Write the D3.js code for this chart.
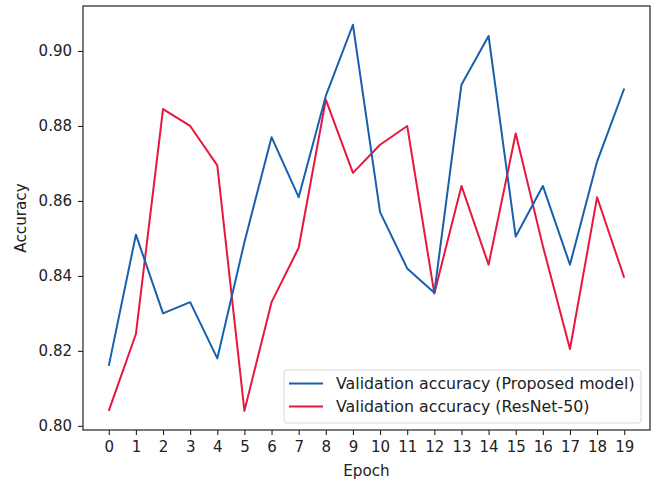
<!DOCTYPE html>
<html>
<head>
<meta charset="utf-8">
<script src="https://cdn.jsdelivr.net/npm/d3@7"></script>
<style>
  body { margin: 0; background: #fff; }
  svg { font-family: 'DejaVu Sans', sans-serif; }
</style>
</head>
<body>
<div id="chart"></div>
<script>
// epochs 0..19
const epochs = [0, 1, 2, 3, 4, 5, 6, 7, 8, 9, 10, 11, 12, 13, 14, 15, 16, 17, 18, 19];
const proposedAcc = [0.816, 0.851, 0.830, 0.833, 0.818, 0.849, 0.877, 0.861, 0.888, 0.907,
                     0.857, 0.842, 0.8355, 0.891, 0.904, 0.8505, 0.864, 0.843, 0.8705, 0.890];
const resnetAcc = [0.804, 0.8245, 0.8845, 0.880, 0.8695, 0.804, 0.833, 0.8475, 0.887, 0.8675,
                   0.875, 0.880, 0.8353, 0.864, 0.843, 0.878, 0.848, 0.8205, 0.861, 0.8395];
const yTicks = [0.80, 0.82, 0.84, 0.86, 0.88, 0.90];
const seriesNames = ['Validation accuracy (Proposed model)', 'Validation accuracy (ResNet-50)'];

const width = 656, height = 484;
const margin = {top: 6, right: 6, bottom: 54, left: 83};
const tickFont = 15, labelFont = 15.2, legendFont = 15.8;

function drawChart() {
    const svg = d3.select('#chart')
        .append('svg')
        .attr('width', width)
        .attr('height', height);

    // matplotlib style 5% padding
    const x = d3.scaleLinear()
        .domain([-0.95, 19.95])
        .range([margin.left, width - margin.right]);

    const y = d3.scaleLinear()
        .domain([0.7989, 0.912])
        .range([height - margin.bottom, margin.top]);

    const xAxis = svg.append('g')
        .attr('transform', `translate(0, ${height - margin.bottom})`)
        .call(d3.axisBottom(x).tickValues(epochs).tickFormat(d3.format('d')).tickSize(5).tickPadding(6));

    const yAxis = svg.append('g')
        .attr('transform', `translate(${margin.left}, 0)`)
        .call(d3.axisLeft(y).tickValues(yTicks).tickFormat(d3.format('.2f')).tickSize(5).tickPadding(6));

    [xAxis, yAxis].forEach(ax => {
        ax.select('.domain').remove();
        ax.selectAll('line').attr('stroke', '#222').attr('stroke-width', 1.1);
        ax.selectAll('text')
            .attr('fill', '#222')
            .style('font-size', tickFont + 'px')
            .style('font-family', "'DejaVu Sans', sans-serif");
    });

    // frame
    svg.append('rect')
        .attr('x', margin.left)
        .attr('y', margin.top)
        .attr('width', width - margin.left - margin.right)
        .attr('height', height - margin.top - margin.bottom)
        .attr('fill', 'none')
        .attr('stroke', '#222')
        .attr('stroke-width', 1.2);

    const line = d3.line()
        .x((d, i) => x(epochs[i]))
        .y(d => y(d));

    const colors = ['#1760ad', '#e8173f'];

    svg.append('path')
        .datum(resnetAcc)
        .attr('d', line)
        .attr('fill', 'none')
        .attr('stroke', colors[1])
        .attr('stroke-width', 2)
        .attr('stroke-linejoin', 'round');

    svg.append('path')
        .datum(proposedAcc)
        .attr('d', line)
        .attr('fill', 'none')
        .attr('stroke', colors[0])
        .attr('stroke-width', 2)
        .attr('stroke-linejoin', 'round');

    // axis labels
    svg.append('text')
        .attr('x', (margin.left + width - margin.right) / 2)
        .attr('y', 476)
        .attr('text-anchor', 'middle')
        .attr('fill', '#222')
        .style('font-size', labelFont + 'px')
        .text('Epoch');

    svg.append('text')
        .attr('transform', `translate(26, ${(margin.top + height - margin.bottom) / 2}) rotate(-90)`)
        .attr('text-anchor', 'middle')
        .attr('fill', '#222')
        .style('font-size', labelFont + 'px')
        .text('Accuracy');

    // legend
    const legend = svg.append('g').attr('transform', 'translate(284, 370)');
    legend.append('rect')
        .attr('width', 357)
        .attr('height', 53)
        .attr('rx', 3)
        .attr('fill', '#fff')
        .attr('fill-opacity', 0.8)
        .attr('stroke', '#d8d8d8');

    seriesNames.forEach((name, i) => {
        const row = legend.append('g').attr('transform', `translate(0, ${13.5 + i * 23})`);
        row.append('line')
            .attr('x1', 5).attr('x2', 39)
            .attr('stroke', colors[i])
            .attr('stroke-width', 2);
        row.append('text')
            .attr('x', 52)
            .attr('dy', '0.35em')
            .attr('fill', '#222')
            .style('font-size', legendFont + 'px')
            .text(name);
    });
}

drawChart();
</script>
</body>
</html>
